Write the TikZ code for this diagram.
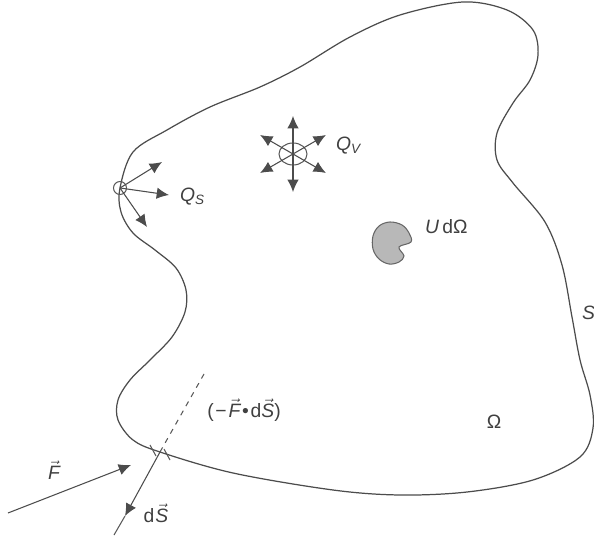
\documentclass[tikz,border=0pt]{standalone}
\usepackage{fontspec}
\setmainfont{Liberation Sans}
\usepackage{tikz}
\usetikzlibrary{arrows.meta, positioning, calc}

\begin{document}
\begin{tikzpicture}[
    x=0.02cm, y=-0.02cm,
    boundary/.style={draw=black!70, line width=0.7pt},
    arrow/.style={-{Latex[length=7pt, width=6.5pt]}, draw=black!70, line width=0.6pt},
    thin line/.style={draw=black!65, line width=0.6pt},
    lbl/.style={font=\fontsize{11}{13}\selectfont, text=black!75, inner sep=1pt}
]
\useasboundingbox (0,0) rectangle (594,536);

% Surface S
\draw[boundary] plot[smooth cycle, tension=0.55] coordinates {
    (120,188) (133,152) (167,130) (210,107) (260,87) (300,67) (350,37)
    (400,15) (463,2) (507,10) (533,30) (538,55) (530,80) (513,103)
    (497,133) (497,160) (513,183) (545,222) (562,265) (572,317)
    (580,360) (590,395) (593,428) (580,457) (533,480) (467,492)
    (400,495) (333,490) (233,473) (160,452) (133,440) (118,420)
    (118,400) (130,380) (150,360) (172,337) (185,312) (186,290)
    (176,268) (155,250) (133,233) (121,212)};

% Surface source
\node[draw=black!65, circle, line width=0.6pt, minimum size=0.26cm, inner sep=0pt] (os) at (120,188) {};
\draw[arrow] (os.center) -- ++(42,-26);
\draw[arrow] (os.center) -- ++(49,7);
\draw[arrow] (os.center) -- ++(27,39);
\node[lbl, anchor=west] (qs) at (178,197) {\textit{Q}\textsubscript{\textit{S}}};

% Volume source
\coordinate (qv) at (293,154);
\draw[thin line] (qv) ellipse (14 and 11);
\foreach \a in {30, 90, 150, 210, 270, 330}
    \draw[arrow] (qv) -- ++(\a:38);
\node[lbl, anchor=west] (qvl) at (334,146) {\textit{Q}\textsubscript{\textit{V}}};

% Volume element
\filldraw[fill=black!28, draw=black!60, line width=0.6pt] plot[smooth cycle, tension=0.6] coordinates {
    (390,222) (402,225) (409,233) (411,242) (399,247) (404,256)
    (399,262) (389,264) (379,259) (373,249) (373,236) (379,226)};
\node[lbl, anchor=west] (ud) at (423,227) {\textit{U}\,dΩ};

% Domain and boundary labels
\node[lbl] (om) at (494,422) {Ω};
\node[lbl, anchor=west] (sl) at (580,313) {\textit{S}};

% Flux through dS
\coordinate (cross) at (160,452);
\coordinate (dtop) at (204,374);
\coordinate (dstip) at (125,516);
\coordinate (dsend) at (114,535);
\coordinate (fstart) at (8,513);
\draw[thin line, dashed] (cross) -- (dtop);
\draw[arrow] (cross) -- (dstip);
\draw[thin line] (dstip) -- (dsend);
\draw[thin line] (150,445) -- (156,456);
\draw[thin line] (164,449) -- (170,460);
\draw[arrow] (fstart) -- (131,465);
\node[lbl] (fl) at (54,470) {$\vec{\textit{F}}$};
\node[lbl] (dsl) at (156,513) {d\kern0.5pt$\vec{\textit{S}}$};
\node[lbl] (flux) at (244,410) {(\kern1pt−\kern1pt$\vec{\textit{F}}$\kern1pt\textbullet\kern1pt d$\vec{\textit{S}}$)};

\end{tikzpicture}
\end{document}
